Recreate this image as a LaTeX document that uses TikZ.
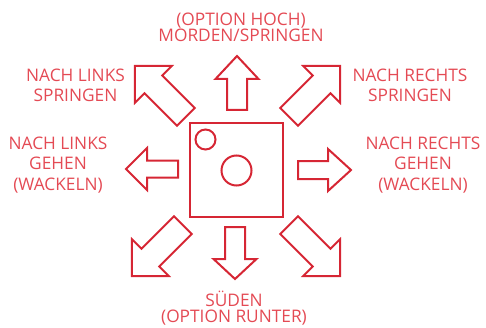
\documentclass[tikz,border=0pt]{standalone}
\usepackage{fontspec}
\setmainfont{Open Sans}
\definecolor{linered}{RGB}{214,38,52}
\definecolor{textred}{RGB}{228,74,84}
\tikzset{
  x=1pt, y=1pt,
  arrowline/.style={draw=linered, line width=2pt, line join=miter},
  pics/fatarrow/.style args={#1/#2/#3/#4}{code={
    \draw[arrowline] (0,#4) -- ({#1-#2},#4) -- ({#1-#2},#3) -- (#1,0)
      -- ({#1-#2},-#3) -- ({#1-#2},-#4) -- (0,-#4) -- cycle;}},
  sidelabel/.style={text=textred, align=center, anchor=base, inner sep=0pt,
    font=\fontsize{17.3}{20.5}\selectfont},
  tblabel/.style={text=textred, align=center, anchor=base, inner sep=0pt,
    font=\fontsize{17.3}{16}\selectfont},
  screenbox/.style={draw=linered, line width=2pt, minimum width=93pt, minimum height=94pt, inner sep=0pt},
  ring/.style={draw=linered, line width=2pt, circle, inner sep=0pt},
}
\begin{document}
\lineskiplimit=-20pt
\begin{tikzpicture}
\useasboundingbox (0,0) rectangle (486,327);
% central box
\node[screenbox] (screen) at (236.5,157) {};
\node[ring, minimum size=20pt] (small) at (205.5,187.5) {};
\node[ring, minimum size=30pt] (big) at (236.5,156.5) {};
% straight arrows
\pic[rotate=90]  at (237,217) {fatarrow=54/23/21.5/10};
\pic[rotate=-90] at (235,100) {fatarrow=52/20/21.5/10};
\pic[rotate=180] at (178,158) {fatarrow=52/21/21/8.5};
\pic             at (298,157) {fatarrow=53/23/21/9};
% diagonal arrows
\pic[rotate=135] at (185.9,210.1) {fatarrow=72/26/26/12.5};
\pic[rotate=45]  at (289.1,210.1) {fatarrow=72/26/26/12.5};
\pic[rotate=225] at (182.9,101.9) {fatarrow=72/26/26/12.5};
\pic[rotate=315] at (289.1,101.9) {fatarrow=72/26/26/12.5};
% labels (anchor = baseline of last line)
\node[tblabel] (top) at (241,285) {(OPTION HOCH)\\MORDEN/SPRINGEN};
\node[sidelabel] (ul) at (75.5,225) {NACH LINKS\\SPRINGEN};
\node[sidelabel] (ur) at (410,225) {NACH RECHTS\\SPRINGEN};
\node[sidelabel] (l) at (58,137) {NACH LINKS\\GEHEN\\(WACKELN)};
\node[sidelabel] (r) at (423,137) {NACH RECHTS\\GEHEN\\(WACKELN)};
\node[tblabel] (bottom) at (234,5) {SÜDEN\\(OPTION RUNTER)};
\end{tikzpicture}
\end{document}
